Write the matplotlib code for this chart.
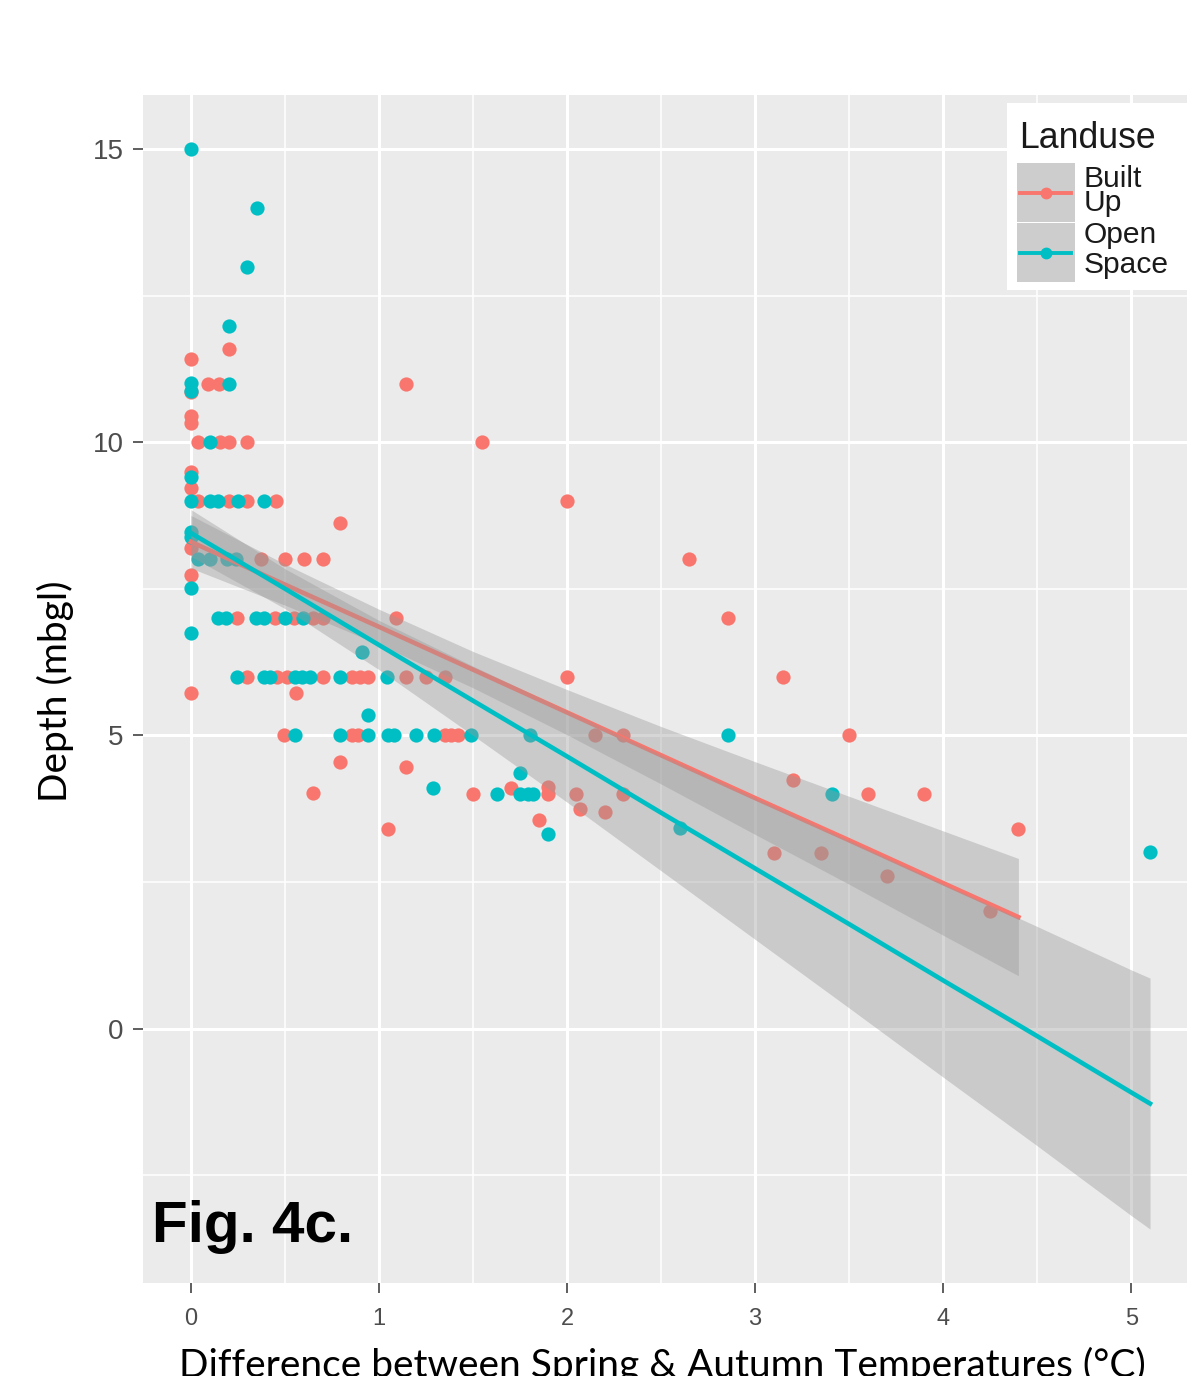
import matplotlib
matplotlib.use("Agg")
import matplotlib.pyplot as plt
from matplotlib.patches import Rectangle
from matplotlib.lines import Line2D

W, H = 1187, 1376

# ---- data -------------------------------------------------------------
landuse = ["Built Up", "Open Space"]
colors = ["#F8766D", "#00BFC4"]

built_x = [0, 0.20, 0.09, 0.15, 1.146, 0, 0, 0,
           0.037, 0.154, 0.20, 0.30, 1.55, 0, 0,
           0.04, 0.20, 0.30, 0.45, 2.0, 0.795, 0,
           0.37, 0.5, 0.6, 0.70, 2.65, 0,
           0.245, 0.446, 0.547, 0.65, 0.70, 1.09, 2.855,
           0.296, 0.46, 0.51, 0.70, 0.854, 0.90, 0.94, 1.146, 1.25, 1.35, 2.0, 3.15,
           0, 0.56,
           0.494, 0.854, 0.889, 1.35, 1.385, 1.42, 2.15, 2.30, 3.50,
           0.795, 1.146, 3.2,
           0.65, 1.5, 1.70, 1.9, 1.9, 2.05, 2.30, 3.6, 3.9,
           2.07, 2.2, 1.85, 1.05, 4.4,
           3.1, 3.35, 3.7, 4.25]
built_y = [11.42, 11.59, 10.99, 10.99, 10.99, 10.85, 10.45, 10.32,
           10.0, 10.0, 10.0, 10.0, 10.0, 9.49, 9.22,
           9.0, 9.0, 9.0, 9.0, 9.0, 8.62, 8.19,
           8.0, 8.0, 8.0, 8.0, 8.0, 7.73,
           7.0, 7.0, 7.0, 7.0, 7.0, 7.0, 7.0,
           6.0, 6.0, 6.0, 6.0, 6.0, 6.0, 6.0, 6.0, 6.0, 6.0, 6.0, 6.0,
           5.72, 5.72,
           5.0, 5.0, 5.0, 5.0, 5.0, 5.0, 5.0, 5.0, 5.0,
           4.54, 4.46, 4.24,
           4.02, 4.0, 4.1, 4.12, 4.0, 4.0, 4.0, 4.0, 4.0,
           3.75, 3.7, 3.56, 3.4, 3.4,
           3.0, 3.0, 2.6, 2.0]

open_x = [0, 0.352, 0.296, 0.2035,
          0, 0, 0.20, 0.10,
          0,
          0, 0.10, 0.145, 0.25, 0.39,
          0, 0,
          0.04, 0.10, 0.19, 0.24,
          0,
          0.145, 0.186, 0.345, 0.39, 0.5, 0.595,
          0, 0.907,
          0.243, 0.388, 0.42, 0.553, 0.59, 0.632, 0.79, 1.04,
          0.942,
          0.553, 0.79, 0.94, 1.05, 1.08, 1.196, 1.29, 1.49, 1.805, 2.855,
          1.286, 1.748,
          1.63, 1.75, 1.79, 1.82,
          1.9, 2.6, 3.41, 5.10]
open_y = [15.0, 13.99, 12.98, 11.98,
          11.0, 10.88, 10.99, 10.0,
          9.41,
          9.0, 9.0, 9.0, 9.0, 9.0,
          8.47, 8.38,
          8.0, 8.0, 8.0, 8.0,
          7.51,
          7.0, 7.0, 7.0, 7.0, 7.0, 7.0,
          6.74, 6.42,
          6.0, 6.0, 6.0, 6.0, 6.0, 6.0, 6.0, 6.0,
          5.34,
          5.0, 5.0, 5.0, 5.0, 5.0, 5.0, 5.0, 5.0, 5.0, 5.0,
          4.11, 4.35,
          4.0, 4.0, 4.0, 4.0,
          3.32, 3.42, 4.0, 3.01]

# fitted trend with confidence band for each land use
built_fit_x = [0, 0.5, 1.0, 1.5, 2.0, 2.5, 3.0, 3.5, 4.0, 4.4]
built_fit_y = [8.30, 7.57, 6.85, 6.12, 5.39, 4.66, 3.93, 3.21, 2.48, 1.90]
built_lo = [7.85, 7.22, 6.55, 5.81, 5.01, 4.17, 3.31, 2.46, 1.59, 0.90]
built_hi = [8.75, 7.92, 7.15, 6.43, 5.78, 5.15, 4.55, 3.96, 3.37, 2.90]

open_fit_x = [0, 0.5, 1.0, 1.5, 2.0, 2.5, 3.0, 3.5, 4.0, 4.5, 5.0, 5.1]
open_fit_y = [8.45, 7.50, 6.54, 5.59, 4.64, 3.68, 2.73, 1.78, 0.82, -0.13, -1.09, -1.28]
open_lo = [8.05, 7.16, 6.12, 5.00, 3.86, 2.69, 1.52, 0.35, -0.83, -2.00, -3.19, -3.42]
open_hi = [8.85, 7.84, 6.96, 6.18, 5.42, 4.67, 3.94, 3.21, 2.47, 1.74, 1.00, 0.86]

x_ticks = [0, 1, 2, 3, 4, 5]
y_ticks = [0, 5, 10, 15]

# ---- figure -----------------------------------------------------------
fig = plt.figure(figsize=(W / 100, H / 100), dpi=100)
fig.patch.set_facecolor("white")


def fx(px):
    return px / W


def fy(py):
    return 1 - py / H


left, right, top, bottom = 143, 1198, 95, 1283
ax = fig.add_axes([fx(left), fy(bottom), (right - left) / W, (bottom - top) / H])
ax.set_facecolor("#EBEBEB")
ax.set_xlim(-0.255, 5.355)
ax.set_ylim(-4.34, 15.92)
for s in ax.spines.values():
    s.set_visible(False)

ax.set_xticks(x_ticks)
ax.set_yticks(y_ticks)
ax.set_xticks([0.5, 1.5, 2.5, 3.5, 4.5], minor=True)
ax.set_yticks([-2.5, 2.5, 7.5, 12.5], minor=True)
ax.grid(which="major", color="white", linewidth=2.2, zorder=0)
ax.grid(which="minor", color="white", linewidth=1.1, zorder=0)
ax.set_axisbelow(True)
ax.tick_params(which="minor", length=0)
ax.tick_params(axis="both", which="major", color="#333333", length=7, width=1.1)
ax.tick_params(axis="y", labelsize=20, labelcolor="#4D4D4D", pad=7)
ax.tick_params(axis="x", labelsize=17, labelcolor="#4D4D4D", pad=11)
for lab in ax.get_xticklabels() + ax.get_yticklabels():
    lab.set_family("Liberation Sans")

# points
ax.scatter(built_x, built_y, s=105, color=colors[0], linewidths=0, zorder=2)
ax.scatter(open_x, open_y, s=105, color=colors[1], linewidths=0, zorder=2)

# trend bands and lines (band drawn over points, group by group)
ax.fill_between(built_fit_x, built_lo, built_hi, color="#999999", alpha=0.4,
                linewidth=0, zorder=3)
ax.plot(built_fit_x, built_fit_y, color=colors[0], linewidth=3.3, zorder=4)
ax.fill_between(open_fit_x, open_lo, open_hi, color="#999999", alpha=0.4,
                linewidth=0, zorder=5)
ax.plot(open_fit_x, open_fit_y, color=colors[1], linewidth=3.3, zorder=6)

# axis titles
fig.text(fx(55), fy(691), "Depth (mbgl)", rotation=90, ha="center",
         va="center", fontsize=28, family="Lato", color="black")
fig.text(fx(662), fy(1377), "Difference between Spring & Autumn Temperatures (°C)",
         ha="center", va="baseline", fontsize=28, family="Lato", color="black")

# panel label
fig.text(fx(152), fy(1242), "Fig. 4c.", ha="left", va="baseline",
         fontsize=42, fontweight="bold", family="Liberation Sans", color="black")

# legend
fig.patches.append(Rectangle((fx(1007), fy(290)), (1187 - 1007) / W, (290 - 103) / H,
                             transform=fig.transFigure, facecolor="white",
                             edgecolor="none", zorder=10))
fig.text(fx(1019), fy(148), "Landuse", ha="left", va="baseline", fontsize=25.7,
         family="Liberation Sans", color="#1A1A1A", zorder=11)
key_tops = [163, 223]
for i, (name, col) in enumerate(zip(landuse, colors)):
    t = key_tops[i]
    fig.patches.append(Rectangle((fx(1017), fy(t + 59)), 58 / W, 59 / H,
                                 transform=fig.transFigure, facecolor="#CDCDCD",
                                 edgecolor="none", zorder=11))
    yc = t + 29.5
    fig.lines.append(Line2D([fx(1020), fx(1071)], [fy(yc), fy(yc)],
                            transform=fig.transFigure, color=col, linewidth=2.8,
                            zorder=12))
    fig.lines.append(Line2D([fx(1045.5)], [fy(yc)], transform=fig.transFigure,
                            marker="o", markersize=7.5, color=col, linewidth=0,
                            zorder=12))
    words = name.split(" ")
    baselines = [[187, 211], [243, 273]][i]
    for w, b in zip(words, baselines):
        fig.text(fx(1084), fy(b), w, ha="left", va="baseline", fontsize=21.6,
                 family="Liberation Sans", color="#1A1A1A", zorder=12)

fig.savefig("out.png", dpi=100)
